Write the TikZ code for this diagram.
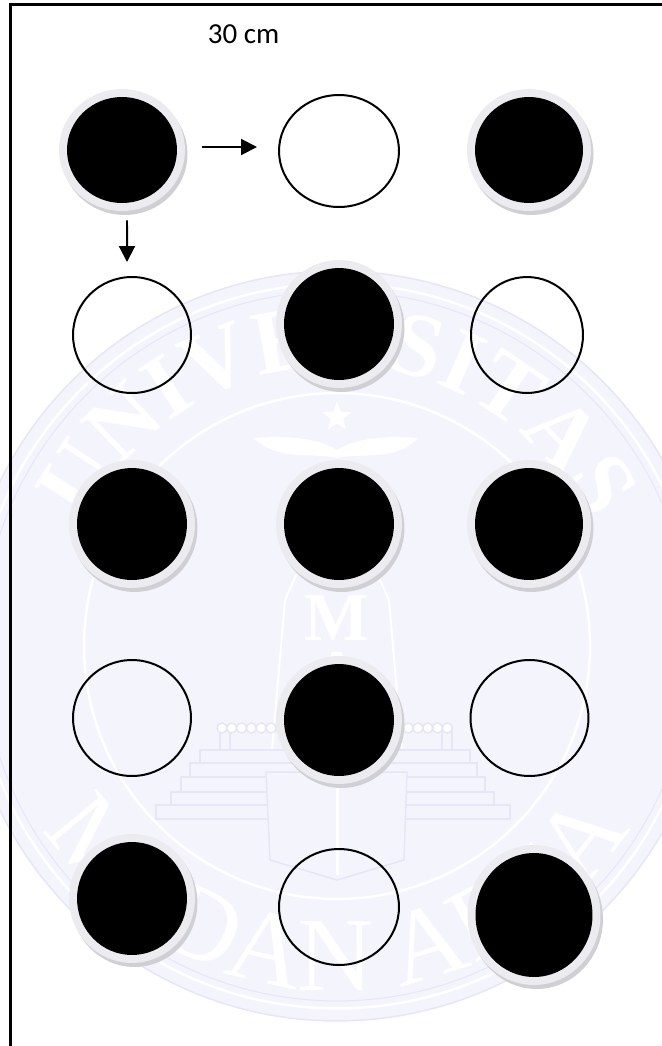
\documentclass[tikz,border=0pt]{standalone}
\usepackage{fontspec}
\setmainfont{Carlito}
\newfontfamily\markfont{Liberation Serif}
\usetikzlibrary{shapes.geometric,arrows.meta,decorations.text}
\definecolor{markbg}{HTML}{F4F4FD}
\definecolor{markline}{HTML}{E6E6F7}
\definecolor{halo}{HTML}{EBEBF0}
\definecolor{haloshade}{HTML}{D0D0D4}
\tikzset{
  blackdisc/.style={ellipse,inner sep=0pt,minimum width=2.2cm,minimum height=2.24cm,fill=black,
    preaction={draw=haloshade,line width=0.32cm,transform canvas={xshift=0.05cm,yshift=-0.08cm}},
    preaction={draw=halo,line width=0.32cm}},
  opendisc/.style={ellipse,inner sep=0pt,minimum width=2.36cm,minimum height=2.32cm,draw=black,line width=0.04cm},
  flowarrow/.style={-{Triangle[length=0.32cm,width=0.32cm]},line width=0.04cm,draw=black},
  markstep/.style={draw=markline,fill=markbg,line width=0.03cm},
  markletter/.style={font=\markfont\bfseries\fontsize{39}{39}\selectfont,text=white,inner sep=0pt}
}
\begin{document}
\begin{tikzpicture}[x=0.02cm,y=-0.02cm]
  \useasboundingbox (0,0) rectangle (662,1046);
  % watermark
  \begin{scope}
    \clip (0,0) rectangle (662,1046);
    \coordinate (mk) at (337,646);
    \fill[markbg] (mk) circle[radius=7.5cm];
    \draw[markline,line width=0.03cm] (mk) circle[radius=7.5cm];
    \draw[white,line width=0.05cm] (mk) circle[radius=7.25cm];
    \draw[markline,line width=0.02cm] (mk) circle[radius=7.1cm];
    \draw[white,line width=0.05cm] (mk) circle[radius=5.06cm];
    \path[decorate,decoration={text along path,text align=center,text={|\markfont\bfseries\fontsize{52}{52}\selectfont\color{white}|UNIVERSITAS}}] (mk) ++(153:5.6cm) arc[start angle=153,end angle=27,radius=5.6cm];
    \path[decorate,decoration={text along path,text align=center,text={|\markfont\fontsize{60}{60}\selectfont\color{white}|MEDAN AREA}}] (mk) ++(200:6.9cm) arc[start angle=200,end angle=340,radius=6.9cm];
    % emblem
    \node[star,star points=5,star point ratio=2.4,fill=white,inner sep=0pt,minimum size=0.62cm] (markstar) at (337,417) {};
    \fill[white] (337,458) .. controls (310,452) and (280,462) .. (253,438) .. controls (280,436) and (315,436) .. (337,450) .. controls (360,436) and (395,436) .. (418,438) .. controls (395,462) and (365,452) .. (337,458) -- cycle;
    \draw[white,line width=0.04cm] (337,483) -- (285,600) -- (272,750);
    \draw[white,line width=0.04cm] (337,483) -- (389,600) -- (402,750);
    \node[markletter] (markU) at (337,558) {U};
    \node[markletter] (markM) at (337,618) {M};
    \node[markletter] (markA) at (337,675) {A};
    \draw[markstep] (156,805) rectangle (510,819);
    \draw[markstep] (171,792) rectangle (494,805);
    \draw[markstep] (181,777) rectangle (485,792);
    \draw[markstep] (190,763) rectangle (477,777);
    \draw[markstep] (200,750) rectangle (470,763);
    \draw[markstep] (220,730) rectangle (230,750);
    \draw[markstep] (442,730) rectangle (452,750);
    \foreach \i in {0,...,23} {
      \draw[markstep,fill=white] ({222+\i*9.8},728) circle[radius=0.1cm];
    }
    \draw[markstep] (266,772) -- (407,772) -- (404,860) -- (337,880) -- (270,860) -- cycle;
    \draw[white,line width=0.06cm] (337,772) -- (337,875);
  \end{scope}
  % frame
  \draw[line width=0.045cm] (10.5,1046) -- (10.5,4.5) -- (662,4.5);
  % label
  \node[font=\fontsize{16.5}{20}\selectfont,inner sep=0pt] (width) at (243.5,34) {30 cm};
  % row 1
  \node[blackdisc,minimum width=2.2cm,minimum height=2.12cm] (b11) at (122,150) {};
  \node[opendisc,minimum width=2.4cm,minimum height=2.24cm] (w12) at (339,151) {};
  \node[blackdisc,minimum width=2.16cm,minimum height=2.12cm] (b13) at (529,150) {};
  % row 2
  \node[opendisc] (w21) at (132,335) {};
  \node[blackdisc] (b22) at (339,324) {};
  \node[opendisc,minimum width=2.24cm] (w23) at (527,335) {};
  % row 3
  \node[blackdisc] (b31) at (132,524) {};
  \node[blackdisc] (b32) at (339,524) {};
  \node[blackdisc,minimum width=2.16cm] (b33) at (529,524) {};
  % row 4
  \node[opendisc] (w41) at (132,718) {};
  \node[blackdisc] (b42) at (339,720) {};
  \node[opendisc] (w43) at (529.5,718) {};
  % row 5
  \node[blackdisc,minimum height=2.26cm] (b51) at (132,898.5) {};
  \node[opendisc,minimum width=2.4cm] (w52) at (339,907) {};
  \node[blackdisc,minimum width=2.34cm,minimum height=2.48cm] (b53) at (534,915) {};
  % arrows
  \draw[flowarrow,shorten <=0.5cm,shorten >=0.42cm] ([yshift=0.06cm]b11.east) -- ([yshift=0.08cm]w12.west);
  \draw[flowarrow,shorten <=0.34cm,shorten >=0.28cm] ([xshift=0.1cm]b11.south) -- ([xshift=-0.1cm]w21.north);
\end{tikzpicture}
\end{document}
